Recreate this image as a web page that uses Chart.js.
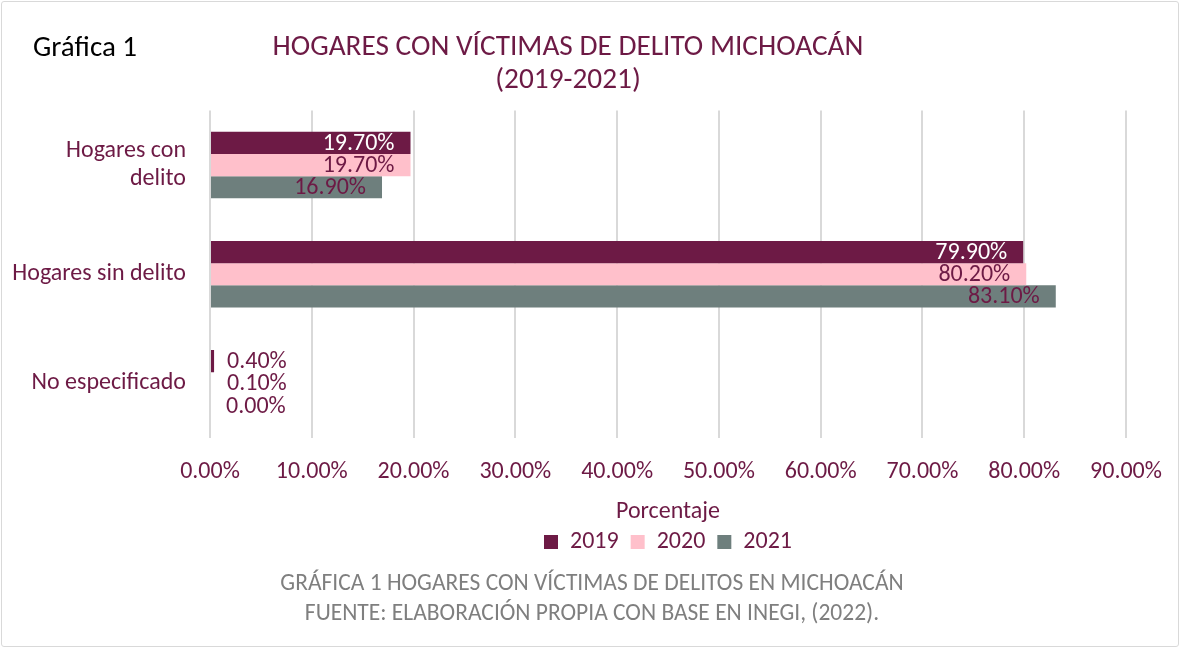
<!DOCTYPE html>
<html lang="es">
<head>
<meta charset="utf-8">
<title>Hogares con víctimas de delito Michoacán</title>
<script src="https://cdn.jsdelivr.net/npm/chart.js@4.4.1/dist/chart.umd.min.js"></script>
<style>
  html, body { margin: 0; padding: 0; background: #fff; }
  #marco { position: relative; width: 1180px; height: 648px; }
  #borde { position: absolute; left: 1px; top: 1px; right: 1px; bottom: 1px; border: 1px solid #D9D9D9; border-radius: 3px; pointer-events: none; }
  #etiqueta { position: absolute; left: 33px; top: 28px; font: 29px Calibri, Carlito, Lato, sans-serif; color: #000; line-height: 36px; }
  #fuente { position: absolute; left: 0; top: 567px; width: 1184px; text-align: center; font: 23.5px Calibri, Carlito, Lato, sans-serif; line-height: 30px; color: #7F7F7F; }
</style>
</head>
<body>
<div id="marco">
  <canvas id="grafica" width="1180" height="648"></canvas>
  <div id="etiqueta">Gráfica 1</div>
  <div id="fuente">GRÁFICA 1 HOGARES CON VÍCTIMAS DE DELITOS EN MICHOACÁN<br>FUENTE: ELABORACIÓN PROPIA CON BASE EN INEGI, (2022).</div>
  <div id="borde"></div>
</div>
<script>
const categorias = [['Hogares con', 'delito'], 'Hogares sin delito', 'No especificado'];
const anios = ['2019', '2020', '2021'];
const valores2019 = [19.7, 79.9, 0.4];
const valores2020 = [19.7, 80.2, 0.1];
const valores2021 = [16.9, 83.1, 0.0];
const ticksX = [0, 10, 20, 30, 40, 50, 60, 70, 80, 90];

const vino = '#6D1A45';
const fuente = 'Calibri, Carlito, Lato, sans-serif';

// etiquetas de datos estilo Excel (dentro del extremo, o fuera si no caben)
const etiquetasDatos = {
  id: 'etiquetasDatos',
  afterDatasetsDraw(chart) {
    const ctx = chart.ctx;
    ctx.save();
    ctx.font = '24px ' + fuente;
    ctx.textBaseline = 'middle';
    chart.data.datasets.forEach((ds, i) => {
      const meta = chart.getDatasetMeta(i);
      meta.data.forEach((bar, j) => {
        const txt = ds.data[j].toFixed(2) + '%';
        const w = ctx.measureText(txt).width;
        const largo = bar.x - bar.base;
        if (largo > w + 20) {
          ctx.textAlign = 'right';
          ctx.fillStyle = i === 0 ? '#FFFFFF' : vino;
          ctx.fillText(txt, bar.x - 16, bar.y + 1);
        } else {
          ctx.textAlign = 'left';
          ctx.fillStyle = vino;
          ctx.fillText(txt, bar.base + 16, bar.y + 1);
        }
      });
    });
    ctx.restore();
  }
};

const ctx = document.getElementById('grafica').getContext('2d');
new Chart(ctx, {
  type: 'bar',
  data: {
    labels: categorias,
    datasets: [
      { label: anios[0], data: valores2019, backgroundColor: '#6D1A45' },
      { label: anios[1], data: valores2020, backgroundColor: '#FFC0CB' },
      { label: anios[2], data: valores2021, backgroundColor: '#6E7F7D' }
    ]
  },
  options: {
    indexAxis: 'y',
    responsive: false,
    animation: false,
    datasets: { bar: { categoryPercentage: 0.61, barPercentage: 1.0 } },
    layout: { padding: { left: 10, right: 54, top: 32, bottom: 84 } },
    scales: {
      x: {
        min: 0,
        max: 90,
        afterBuildTicks(scale) { scale.ticks = ticksX.map(v => ({ value: v })); },
        afterFit(scale) { scale.paddingRight = 0; scale.paddingLeft = 0; },
        grid: { color: '#D9D9D9', lineWidth: 2, drawTicks: false },
        border: { display: false },
        ticks: {
          padding: 22,
          color: vino,
          font: { family: fuente, size: 24, lineHeight: 1.0 },
          callback: v => v.toFixed(2) + '%'
        },
        title: {
          display: true,
          text: 'Porcentaje',
          color: vino,
          font: { family: fuente, size: 24, lineHeight: 1.0 },
          padding: { top: -6, bottom: -6 }
        }
      },
      y: {
        afterFit(scale) { scale.width = 200; },
        grid: { display: false },
        border: { display: false },
        ticks: {
          padding: 16,
          color: vino,
          font: { family: fuente, size: 24 }
        }
      }
    },
    plugins: {
      title: {
        display: true,
        text: ['HOGARES CON VÍCTIMAS DE DELITO MICHOACÁN', '(2019-2021)'],
        color: vino,
        font: { family: fuente, size: 29.3, weight: 'normal', lineHeight: 1.1 },
        padding: { top: 0, bottom: 14 }
      },
      legend: {
        position: 'bottom',
        fullSize: false,
        labels: {
          color: vino,
          font: { family: fuente, size: 24 },
          boxWidth: 14,
          boxHeight: 14,
          padding: 12
        }
      },
      tooltip: { enabled: false }
    }
  },
  plugins: [etiquetasDatos]
});
</script>
</body>
</html>
